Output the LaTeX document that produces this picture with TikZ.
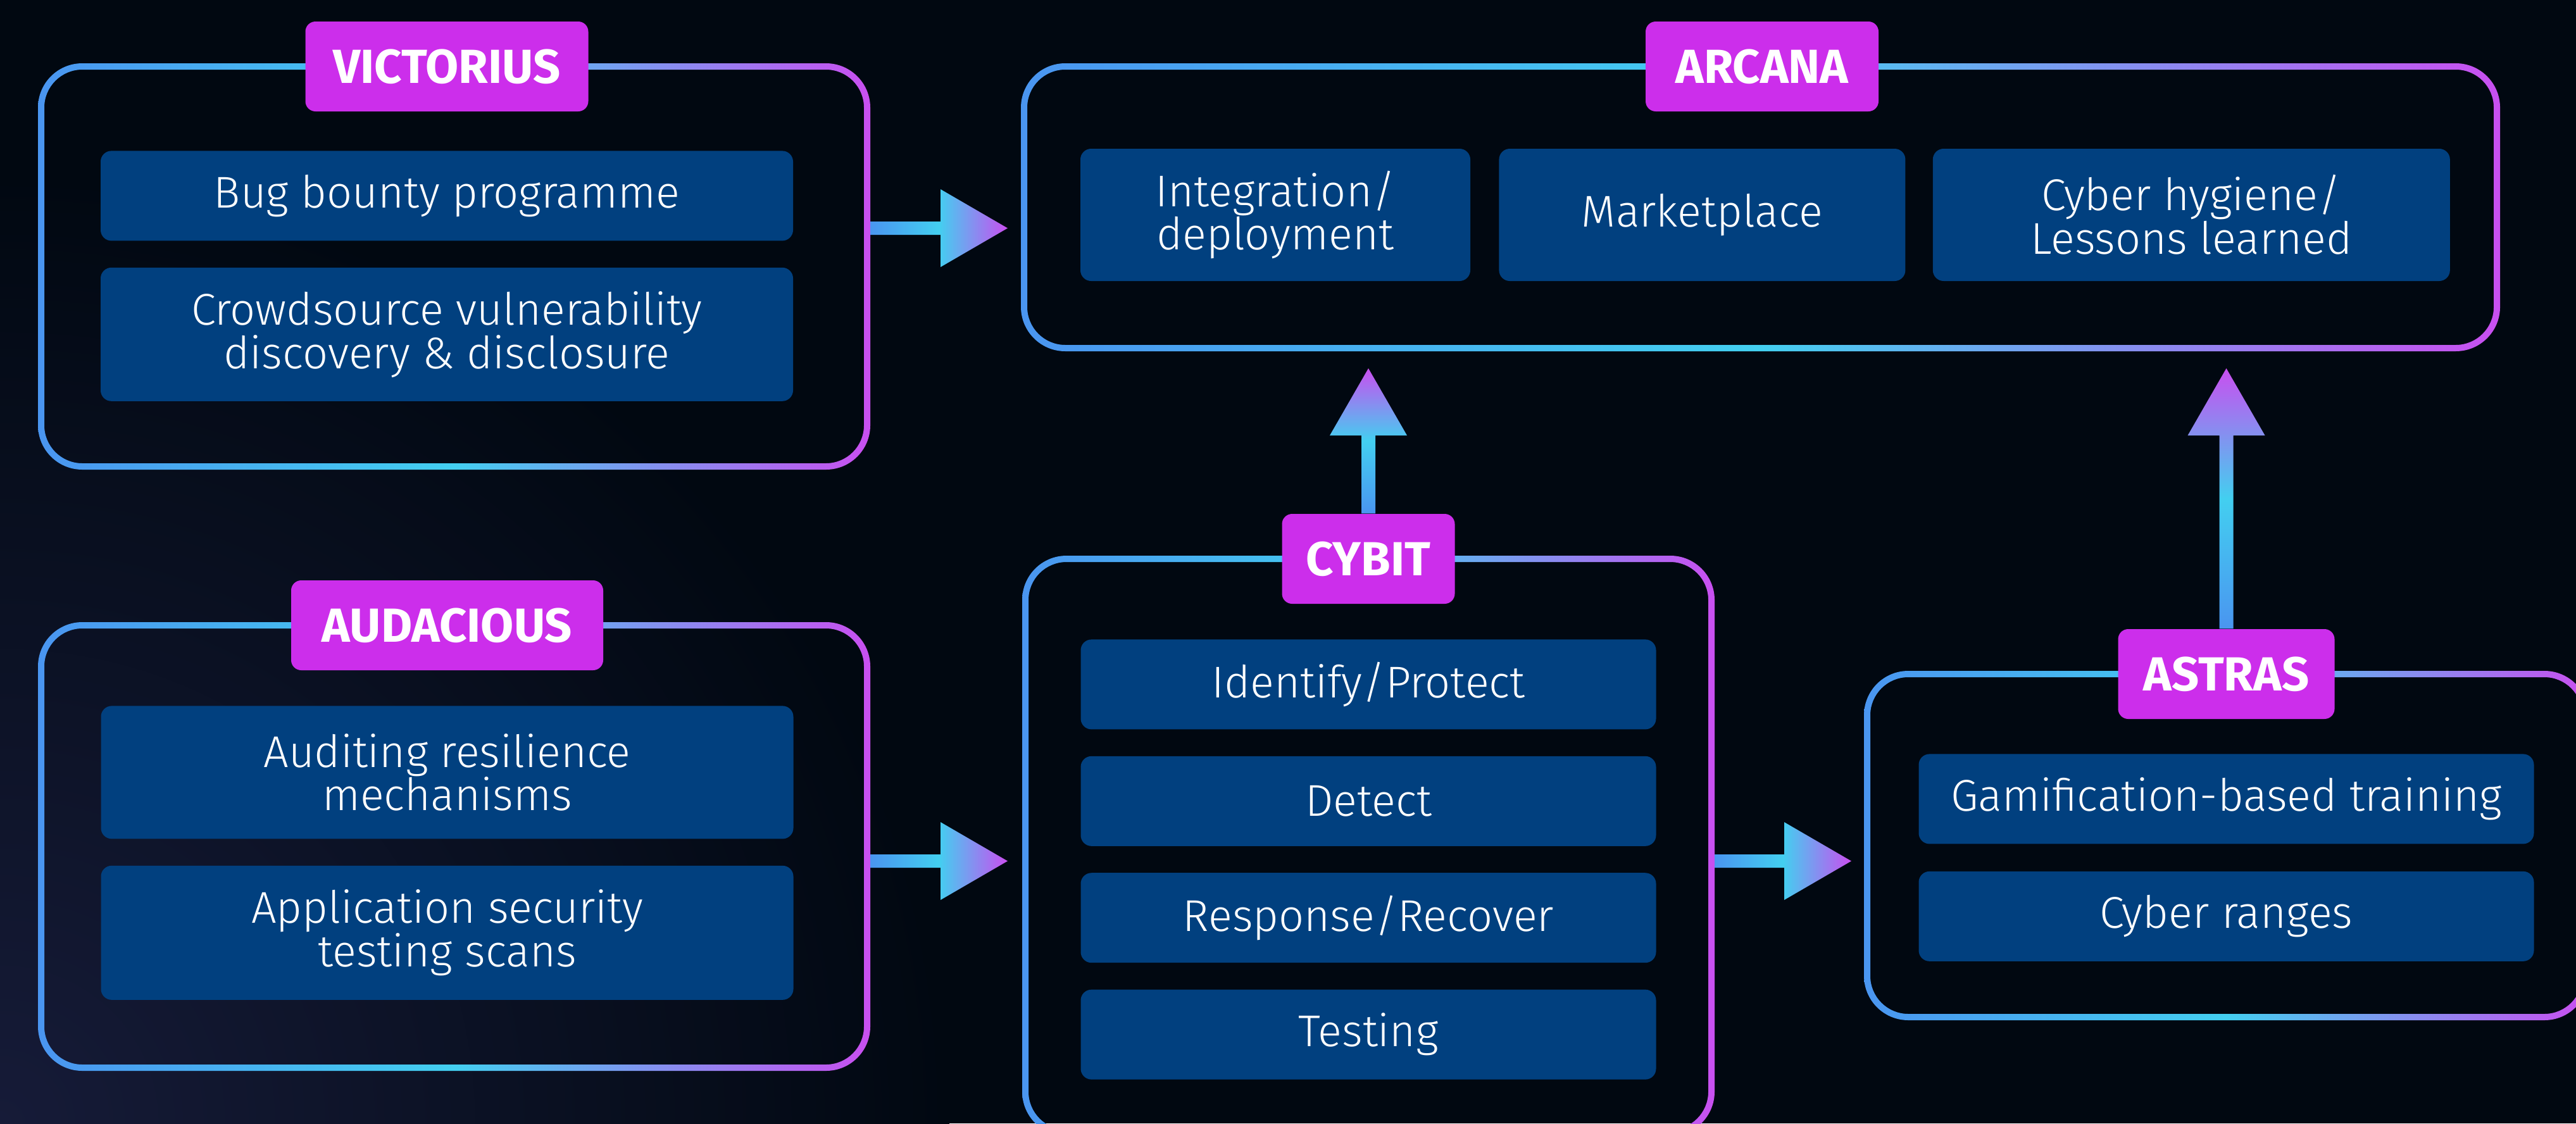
\documentclass[tikz,border=0pt]{standalone}
\usepackage{fontspec}
\setmainfont{Fira Sans Light}
\newfontfamily\tagfam{Fira Sans}
\usetikzlibrary{positioning, calc}

\definecolor{bgc}{HTML}{010811}
\definecolor{glowc}{HTML}{161B38}
\definecolor{fblue}{HTML}{4A95F0}
\definecolor{fcyan}{HTML}{43CFF0}
\definecolor{fmag}{HTML}{C94FF0}
\definecolor{tagc}{HTML}{CC2EEB}
\definecolor{itemc}{HTML}{01407F}

\pgfdeclarehorizontalshading{flow}{100bp}{color(0bp)=(fblue); color(25bp)=(fblue);
  color(50bp)=(fcyan); color(75bp)=(fmag); color(100bp)=(fmag)}

\tikzset{
  frame/.style={inner sep=0pt, outer sep=0pt},
  tag/.style={fill=tagc, text=white, rounded corners=0.16cm, minimum height=1.42cm,
    inner xsep=0.2cm, font=\tagfam\bfseries\fontsize{21.5}{24}\selectfont},
  item/.style={fill=itemc, text=white, rounded corners=0.17cm, minimum height=1.42cm,
    align=center, font=\fontsize{20}{19.6}\selectfont}
}

\newcommand{\framering}[1]{%
  \shade[shading=flow, even odd rule, rounded corners=0.7cm]
    ([shift={(-0.05,-0.05)}]#1.north west) rectangle ([shift={(0.05,0.05)}]#1.south east)
    [rounded corners=0.6cm]
    ([shift={(0.05,0.05)}]#1.north west) rectangle ([shift={(-0.05,-0.05)}]#1.south east);}

\newcommand{\flowright}[2]{%
  \shade[shading=flow] ($(#1)+(0,-0.105)$) -- ($(#2)+(-1.06,-0.105)$) -- ($(#2)+(-1.06,-0.615)$)
    -- (#2) -- ($(#2)+(-1.06,0.615)$) -- ($(#2)+(-1.06,0.105)$) -- ($(#1)+(0,0.105)$) -- cycle;}

\newcommand{\flowup}[2]{%
  \shade[shading=flow, shading angle=90] ($(#1)+(-0.11,0)$) -- ($(#2)+(-0.11,1.06)$) -- ($(#2)+(-0.61,1.06)$)
    -- (#2) -- ($(#2)+(0.61,1.06)$) -- ($(#2)+(0.11,1.06)$) -- ($(#1)+(0.11,0)$) -- cycle;}

\begin{document}
\begin{tikzpicture}[y=-1cm]
    \useasboundingbox (0,0) rectangle (40.7,17.75);
    \fill[bgc] (0,0) rectangle (40.7,17.75);
    \begin{scope}
        \clip (0,0) rectangle (40.7,17.75);
        \shade[inner color=glowc, outer color=bgc] (0,17.75) circle (15);
    \end{scope}

    \node[frame, minimum width=13.05cm, minimum height=6.32cm] (vic) at (7.175,4.21) {};
    \node[frame, minimum width=23.27cm, minimum height=4.45cm] (arc) at (27.815,3.275) {};
    \node[frame, minimum width=13.05cm, minimum height=6.99cm] (aud) at (7.175,13.375) {};
    \node[frame, minimum width=10.84cm, minimum height=9.07cm] (cyb) at (21.62,13.365) {};
    \node[frame, minimum width=11.35cm, minimum height=5.42cm] (ast) at (35.175,13.36) {};

    \foreach \f in {vic,arc,aud,cyb,ast} {\framering{\f}}

    \node[tag, minimum width=4.47cm] (vict) at ([xshift=-0.115cm]vic.north) {VICTORIUS};
    \node[tag, minimum width=3.68cm] (arct) at ([xshift=0.025cm]arc.north) {ARCANA};
    \node[tag, minimum width=4.93cm] (audt) at ([xshift=-0.11cm]aud.north) {AUDACIOUS};
    \node[tag, minimum width=2.73cm] (cybt) at (cyb.north) {CYBIT};
    \node[tag, minimum width=3.42cm] (astt) at (ast.north) {ASTRAS};

    \coordinate (v1) at ([shift={(0.05cm,0.605cm)}]vic.east);
    \coordinate (v2) at ($(arc.west |- v1)+(-0.26,0)$);
    \coordinate (a1) at ([shift={(0.05cm,-0.23cm)}]aud.east);
    \coordinate (a2) at ($(cyb.west |- a1)+(-0.28,0)$);
    \coordinate (c1) at ([shift={(0.05cm,-0.24cm)}]cyb.east);
    \coordinate (c2) at ($(ast.west |- c1)+(-0.25,0)$);
    \coordinate (c3) at ($(cybt.north |- arc.south)+(0,0.32)$);
    \coordinate (s3) at ($(astt.north |- arc.south)+(0,0.32)$);

    \flowright{v1}{v2}
    \flowright{a1}{a2}
    \flowright{c1}{c2}
    \flowup{cybt.north}{c3}
    \flowup{astt.north}{s3}

    \node[item, minimum width=10.94cm, below=0.61cm of vict] (bug) {Bug bounty programme};
    \node[item, minimum width=10.94cm, minimum height=2.11cm, below=0.41cm of bug] (crowd)
        {Crowdsource vulnerability\\discovery \& disclosure};

    \node[item, minimum width=6.16cm, minimum height=2.09cm] (integ) at (20.15,3.395) {Integration/\\deployment};
    \node[item, minimum width=6.42cm, minimum height=2.09cm, right=0.44cm of integ] (market) {Marketplace};
    \node[item, minimum width=8.17cm, minimum height=2.09cm, right=0.42cm of market] (hyg)
        {Cyber hygiene/\\Lessons learned};

    \node[item, minimum width=10.94cm, minimum height=2.10cm, below=0.55cm of audt] (audit)
        {Auditing resilience\\mechanisms};
    \node[item, minimum width=10.94cm, minimum height=2.12cm, below=0.41cm of audit] (appsec)
        {Application security\\testing scans};

    \node[item, minimum width=9.09cm, below=0.55cm of cybt] (ident) {Identify/Protect};
    \node[item, minimum width=9.09cm, below=0.41cm of ident] (detect) {Detect};
    \node[item, minimum width=9.09cm, below=0.41cm of detect] (resp) {Response/Recover};
    \node[item, minimum width=9.09cm, below=0.41cm of resp] (test) {Testing};

    \node[item, minimum width=9.72cm, below=0.54cm of astt] (gami) {Gamification-based training};
    \node[item, minimum width=9.72cm, below=0.42cm of gami] (ranges) {Cyber ranges};
\end{tikzpicture}
\end{document}
